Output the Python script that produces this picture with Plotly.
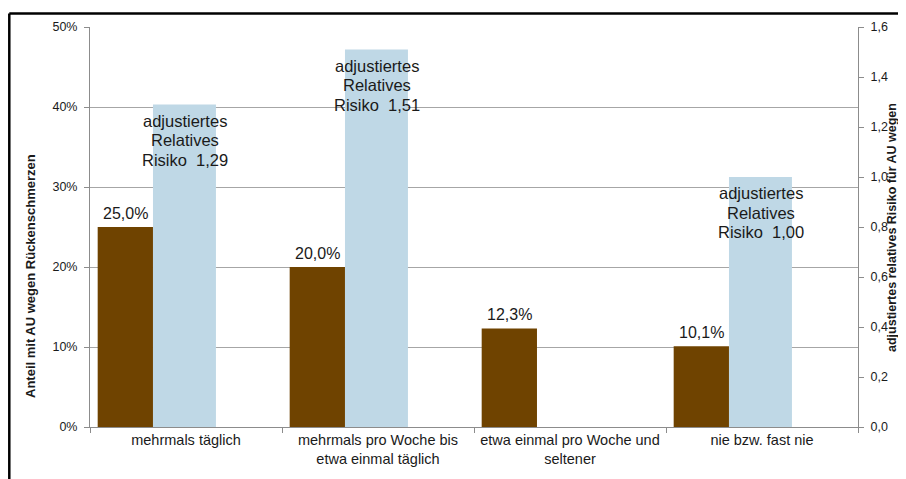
import plotly.graph_objects as go

categories = ["mehrmals täglich",
              "mehrmals pro Woche bis<br>etwa einmal täglich",
              "etwa einmal pro Woche und<br>seltener",
              "nie bzw. fast nie"]
anteil = [25.0, 20.0, 12.3, 10.1]            # % AU wegen Rückenschmerzen
risiko = [1.29, 1.51, None, 1.00]            # adjustiertes relatives Risiko
left_ticks = [0, 10, 20, 30, 40, 50]
right_ticks = [0.0, 0.2, 0.4, 0.6, 0.8, 1.0, 1.2, 1.4, 1.6]
risk_lines = ["adjustiertes", "Relatives", "Risiko\u00a0 {}"]

FONT = "Liberation Sans, Arial, sans-serif"
BROWN = "#6f4300"
BLUE = "#bfd8e6"
TXT = "#1a1a1a"
AX = "#8c8c8c"

fig = go.Figure()
fig.add_trace(go.Bar(
    x=categories, y=anteil, yaxis="y",
    marker=dict(color=BROWN, line=dict(width=0)),
    offset=-0.46, width=0.288,
    showlegend=False, hoverinfo="x+y",
))
fig.add_trace(go.Bar(
    x=categories, y=risiko, yaxis="y2",
    marker=dict(color=BLUE, line=dict(width=0)),
    offset=-0.172, width=0.328,
    showlegend=False, hoverinfo="x+y",
))

annotations = []
# value labels above brown bars
for c, v in zip(categories, anteil):
    annotations.append(dict(
        x=c, y=v, xref="x", yref="y", xshift=-61, yshift=14,
        xanchor="center", yanchor="middle", showarrow=False,
        text=f"{v:.1f}".replace(".", ",") + "%",
        font=dict(family=FONT, size=16, color=TXT),
    ))
# risk labels inside blue bars
for c, r in zip(categories, risiko):
    if r is None:
        continue
    for i, line in enumerate(risk_lines):
        annotations.append(dict(
            x=c, y=r, xref="x", yref="y2", xshift=-1.5, yshift=-16 - 19.5 * i,
            xanchor="center", yanchor="middle", showarrow=False,
            text=line.format(f"{r:.2f}".replace(".", ",")),
            font=dict(family=FONT, size=16.5, color=TXT),
        ))

annotations.append(dict(
    x=(30 - 90) / 768, y=(427 - 276) / 400, xref="paper", yref="paper",
    xanchor="center", yanchor="middle", showarrow=False, textangle=-90,
    text="<b>Anteil mit AU wegen Rückenschmerzen</b>",
    font=dict(family=FONT, size=13, color=TXT),
))
annotations.append(dict(
    x=(892 - 90) / 768, y=(427 - 228) / 400, xref="paper", yref="paper",
    xanchor="center", yanchor="middle", showarrow=False, textangle=-90,
    text="<b>adjustiertes relatives Risiko für AU wegen</b>",
    font=dict(family=FONT, size=12.5, color=TXT),
))
annotations.append(dict(
    x=(907 - 90) / 768, y=(427 - 228) / 400, xref="paper", yref="paper",
    xanchor="center", yanchor="middle", showarrow=False, textangle=-90,
    text="<b>Rückenschmerzen</b>",
    font=dict(family=FONT, size=12.5, color=TXT),
))

top_y = (427 - 13.5) / 400
left_x = (9.3 - 90) / 768
shapes = [
    dict(type="line", xref="paper", yref="paper",
         x0=left_x, x1=1.2, y0=top_y, y1=top_y,
         line=dict(color="black", width=2.5)),
    dict(type="line", xref="paper", yref="paper",
         x0=left_x, x1=left_x, y0=-0.3, y1=top_y,
         line=dict(color="black", width=2.5)),
]

fig.update_layout(
    width=898, height=471,
    margin=dict(l=82, r=48, t=19, b=52),
    paper_bgcolor="white", plot_bgcolor="white",
    separators=",.",
    barmode="overlay",
    font=dict(family=FONT, size=12, color=TXT),
    annotations=annotations, shapes=shapes,
    xaxis=dict(
        type="category", range=[-0.5, 3.5],
        showline=True, linecolor=AX, linewidth=1,
        ticks="outside", tickson="boundaries", ticklen=5, tickcolor=AX,
        tickfont=dict(family=FONT, size=14.5, color=TXT),
        showgrid=False,
    ),
    yaxis=dict(
        range=[0, 50], tickvals=left_ticks,
        ticktext=[f"{v}%" for v in left_ticks],
        showline=True, linecolor=AX, linewidth=1,
        ticks="outside", ticklen=5, tickcolor=AX,
        showgrid=True, gridcolor="#a6a6a6", gridwidth=1, zeroline=False,
        tickfont=dict(family=FONT, size=12.5, color=TXT),
        ticklabelstandoff=4,
    ),
    yaxis2=dict(
        range=[0, 1.6], tickvals=right_ticks,
        ticktext=[f"{v:.1f}".replace(".", ",") for v in right_ticks],
        overlaying="y", side="right",
        showline=True, linecolor=AX, linewidth=1,
        ticks="outside", ticklen=5, tickcolor=AX,
        showgrid=False, zeroline=False,
        tickfont=dict(family=FONT, size=12.5, color=TXT),
        ticklabelstandoff=4,
    ),
)

fig.write_html("out.html")
